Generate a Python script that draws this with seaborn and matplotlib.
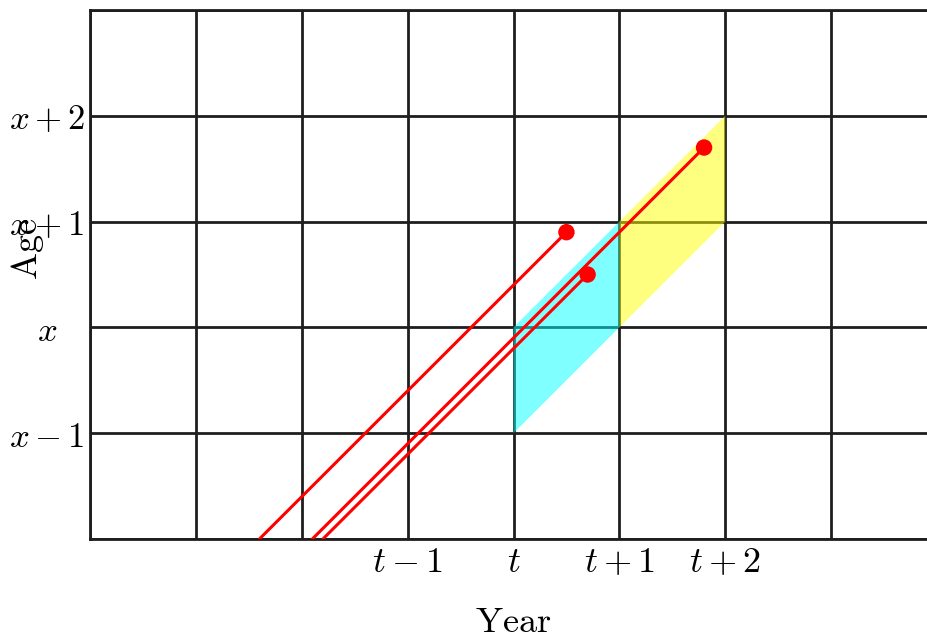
import numpy as np
import pandas as pd
import matplotlib
matplotlib.use('Agg')
import matplotlib.pyplot as plt
import seaborn as sns

# Lexis diagram data (year relative to t, age relative to x)
year_ticks = [-4, -3, -2, -1, 0, 1, 2, 3, 4]
year_labels = ['', '', '', r'$t-1$', r'$t$', r'$t+1$', r'$t+2$', '', '']
age_ticks = [-2, -1, 0, 1, 2, 3]
age_labels = ['', r'$x-1$', r'$x$', r'$x+1$', r'$x+2$', '']

# shaded parallelograms
cyan_year = [0, 0, 1, 1]
cyan_age = [-1, 0, 1, 0]
yellow_year = [1, 1, 2, 2]
yellow_age = [0, 1, 2, 1]

# life lines: start (lower edge) and death point
start_year = [-2.4, -1.9, -1.8]
start_age = [-2.0, -2.0, -2.0]
death_year = [0.5, 1.8, 0.7]
death_age = [0.9, 1.7, 0.5]

sns.set_theme(style='white')
plt.rcParams['mathtext.fontset'] = 'cm'
plt.rcParams['text.color'] = 'black'
plt.rcParams['axes.labelcolor'] = 'black'
plt.rcParams['xtick.color'] = 'black'
plt.rcParams['ytick.color'] = 'black'

lines = pd.DataFrame({
    'id': [0, 1, 2] * 2,
    'year': start_year + death_year,
    'age': start_age + death_age,
})
deaths = pd.DataFrame({'year': death_year, 'age': death_age})

fig = plt.figure(figsize=(9.27, 6.37), dpi=100)
ax = fig.add_axes([90 / 927, 98 / 637, 847 / 927, 529 / 637])

ax.fill(cyan_year, cyan_age, color='cyan', alpha=0.5, lw=0, zorder=2)
ax.fill(yellow_year, yellow_age, color='yellow', alpha=0.5, lw=0, zorder=2)

sns.lineplot(data=lines, x='year', y='age', units='id', estimator=None, sort=False,
             color='red', lw=2.2, ax=ax, zorder=3)
sns.scatterplot(data=deaths, x='year', y='age', color='red', s=140, edgecolor='none',
                ax=ax, zorder=4)

ax.set_xlim(-4, 4)
ax.set_ylim(-2, 3)
ax.set_xticks(year_ticks)
ax.set_xticklabels(year_labels, fontsize=26)
ax.set_yticks(age_ticks)
ax.set_yticklabels(age_labels, fontsize=25)
for lab in ax.get_yticklabels():
    lab.set_ha('center')
ax.tick_params(axis='x', length=0, pad=4)
ax.tick_params(axis='y', length=0, pad=31)
ax.grid(True, color='#1e1e1e', lw=2.0, zorder=1)
ax.set_axisbelow(True)
for sp in ax.spines.values():
    sp.set_color('#1e1e1e')
    sp.set_linewidth(2.0)

ax.set_xlabel(r'$\mathrm{Year}$', fontsize=26)
ax.set_ylabel(r'$\mathrm{Age}$', fontsize=26)
ax.xaxis.set_label_coords(0.5, -0.124)
ax.yaxis.set_label_coords(-0.052, 0.548)

fig.savefig('out.png', dpi=100)
